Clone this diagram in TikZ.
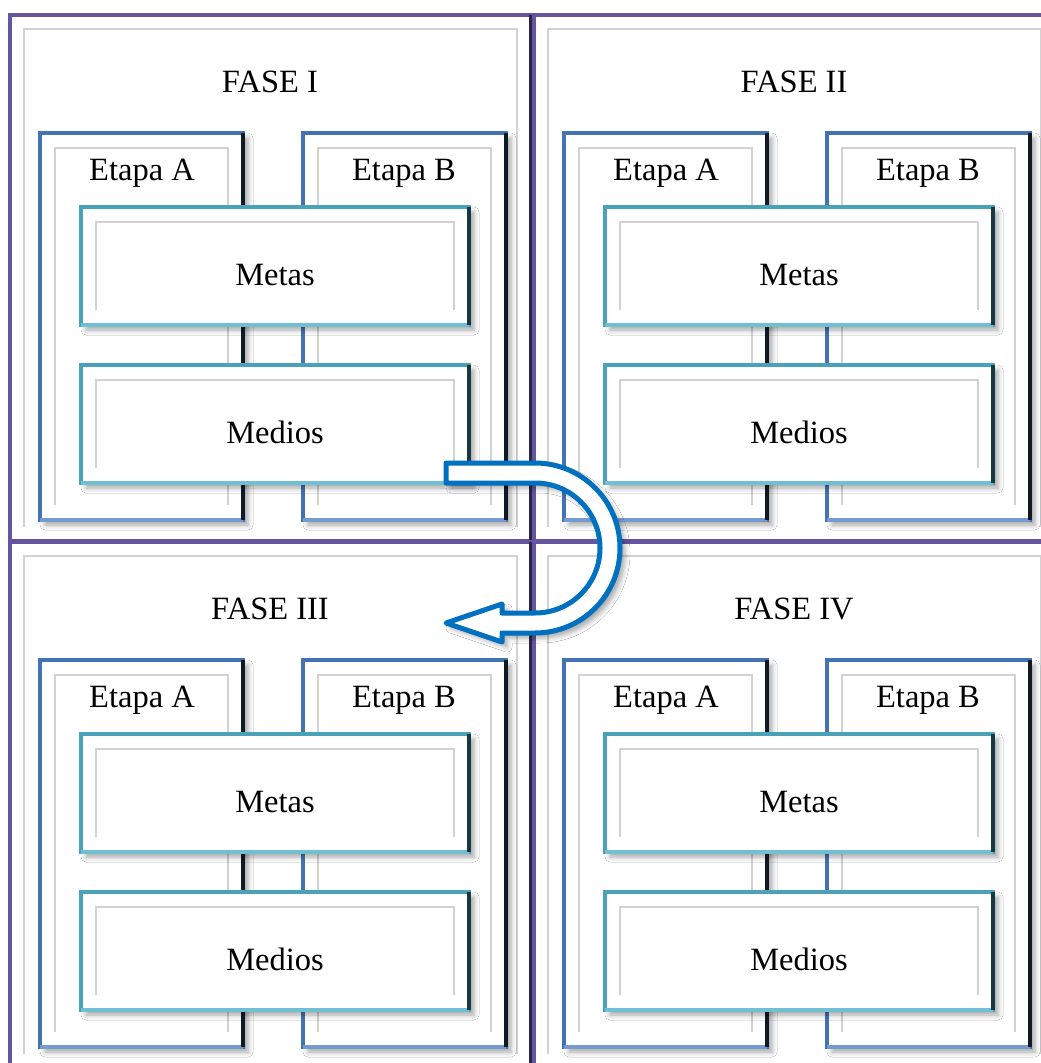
\documentclass[tikz,border=0pt]{standalone}
\usepackage{fontspec}
\setmainfont{Liberation Serif}
\usetikzlibrary{shadows.blur}
\definecolor{fasepurple}{HTML}{6454A2}
\definecolor{fasedark}{HTML}{2A2548}
\definecolor{etapablue}{HTML}{4373B2}
\definecolor{etapalow}{HTML}{739BD0}
\definecolor{etapadark}{HTML}{0E1B26}
\definecolor{metasteal}{HTML}{4AA2B8}
\definecolor{metaslow}{HTML}{70BFD2}
\definecolor{metasdark}{HTML}{163840}
\definecolor{arrowblue}{HTML}{0070C0}
\tikzset{
	fasestyle/.style={rectangle,draw=fasepurple,line width=4,fill=white,outer sep=0,anchor=north west,
		minimum width=521pt,minimum height=526pt,
		path picture={\draw[greyline] ([shift={(14pt,14pt)}]path picture bounding box.south west) |- ([shift={(-14pt,-14pt)}]path picture bounding box.north east) -- ([shift={(-14pt,14pt)}]path picture bounding box.south east);},
		append after command={(\tikzlastnode.north east) edge[draw=fasedark,line width=4.5] (\tikzlastnode.south east)}},
	etapastyle/.style={rectangle,draw=etapablue,line width=4,fill=white,outer sep=0,anchor=north west,
		minimum width=203pt,minimum height=387pt,
		blur shadow={shadow xshift=5pt,shadow yshift=-5pt,shadow blur radius=5pt,shadow opacity=35},
		path picture={\draw[greyline] ([shift={(15pt,15pt)}]path picture bounding box.south west) |- ([shift={(-15pt,-15pt)}]path picture bounding box.north east) -- ([shift={(-15pt,15pt)}]path picture bounding box.south east);},
		append after command={(\tikzlastnode.south west) edge[draw=etapalow,line width=4] (\tikzlastnode.south east)
			(\tikzlastnode.north east) edge[draw=etapadark,line width=4] (\tikzlastnode.south east)}},
	metastyle/.style={rectangle,draw=metasteal,line width=4,fill=white,outer sep=0,anchor=north west,
		minimum width=388pt,minimum height=118pt,
		blur shadow={shadow xshift=5pt,shadow yshift=-5pt,shadow blur radius=5pt,shadow opacity=35},
		path picture={\draw[greyline] ([shift={(15pt,15pt)}]path picture bounding box.south west) |- ([shift={(-15pt,-15pt)}]path picture bounding box.north east) -- ([shift={(-15pt,15pt)}]path picture bounding box.south east);},
		append after command={(\tikzlastnode.south west) edge[draw=metaslow,line width=4] (\tikzlastnode.south east)
			(\tikzlastnode.north east) edge[draw=metasdark,line width=4] (\tikzlastnode.south east)}},
	greyline/.style={draw=gray!35,line width=1.6},
	textstyle/.style={font=\fontsize{32.5}{38}\selectfont,inner sep=0,anchor=base},
	arrowstyle/.style={draw=arrowblue,line width=5,fill=white,line join=round,
		blur shadow={shadow xshift=5pt,shadow yshift=-5pt,shadow blur radius=5pt,shadow opacity=35}}
}
\begin{document}
\begin{tikzpicture}[x=1pt,y=-1pt]
	\useasboundingbox (0,0) rectangle (1041,1063);
	\clip (0,0) rectangle (1041,1063);
	\fill[white] (0,0) rectangle (1041,1063);
	\foreach \k/\dx/\dy/\num in {1/0/0/I,2/524/0/II,3/0/527/III,4/524/527/IV}{
		\begin{scope}[shift={(\dx,\dy)}]
			\node[fasestyle] (fase\k) at (10,15) {};
			\node[etapastyle] (etapaA\k) at (40,133) {};
			\node[etapastyle] (etapaB\k) at (303,133) {};
			\node[metastyle] (metas\k) at (81,207) {};
			\node[metastyle] (medios\k) at (81,365) {};
			\node[textstyle] (faselab\k) at (270,92) {FASE \num};
			\node[textstyle] (etapaAlab\k) at (142,180) {Etapa A};
			\node[textstyle] (etapaBlab\k) at (404,180) {Etapa B};
			\node[textstyle] (metaslab\k) at (275,285) {Metas};
			\node[textstyle] (medioslab\k) at (275,443) {Medios};
		\end{scope}
	}
	% U-turn arrow from FASE II over to FASE III
	\draw[arrowstyle] (446,463) -- (535,463)
		.. controls (582,463) and (620,501) .. (620,548)
		.. controls (620,595) and (582,633) .. (535,633)
		-- (502,633) -- (502,642) -- (446,623) -- (502,604) -- (502,613) -- (535,613)
		.. controls (571,613) and (600,584) .. (600,548)
		.. controls (600,512) and (571,483) .. (535,483)
		-- (446,483) -- cycle;
\end{tikzpicture}
\end{document}
